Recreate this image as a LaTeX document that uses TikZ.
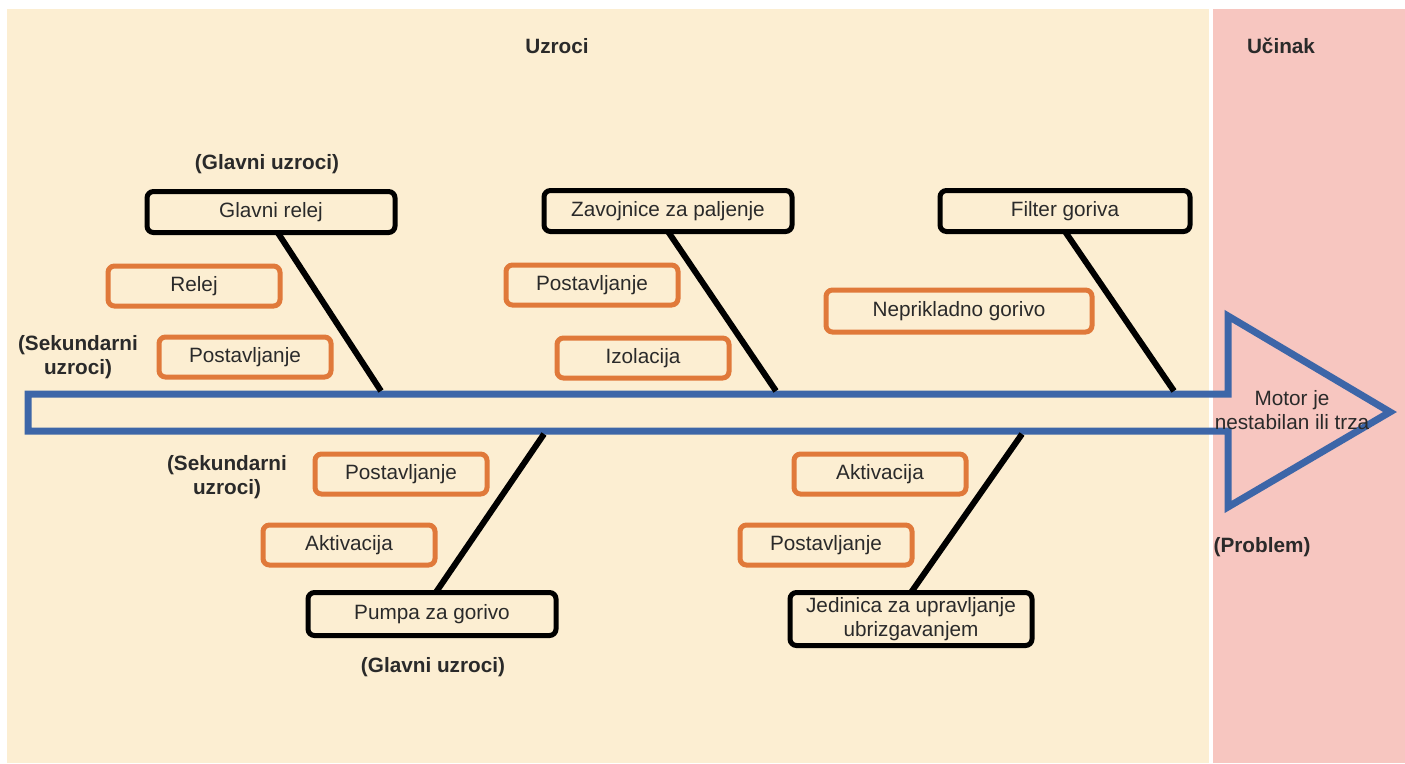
\documentclass[tikz,border=0pt]{standalone}
\usepackage{fontspec}
\setmainfont{Liberation Sans}
\usetikzlibrary{positioning}
\definecolor{cream}{HTML}{FCEED2}
\definecolor{effect}{HTML}{F7C6C0}
\definecolor{spine}{HTML}{3D66A8}
\definecolor{fishorange}{HTML}{E0793A}
\definecolor{ink}{HTML}{2A2A2A}

\begin{document}
\begin{tikzpicture}[
    x=0.2mm, y=-0.2mm,
    every node/.style={color=ink, font=\fontsize{11.8pt}{14pt}\selectfont},
    heading/.style={font=\fontsize{11.8pt}{14pt}\selectfont\bfseries, align=center},
    main cause/.style={draw=black, line width=1mm, rounded corners=1.3mm,
        minimum width=49.6mm, minimum height=8.2mm, inner sep=0pt, outer sep=0pt},
    sub cause/.style={draw=fishorange, line width=1mm, rounded corners=1.3mm,
        minimum width=34.4mm, minimum height=8mm, inner sep=0pt, outer sep=0pt},
    bone/.style={line width=1.2mm, black},
    spine line/.style={draw=spine, line width=1.4mm, line join=miter}
    ]
    \useasboundingbox (0,0) rectangle (1405,763);
    % background
    \fill[white] (0,0) rectangle (1405,763);
    \fill[cream] (7,9) rectangle (1209,763);
    \fill[effect] (1213,9) rectangle (1405,763);
    % titles
    \node[heading] (uzroci) at (557,46) {Uzroci};
    \node[heading] (ucinak) at (1281,46) {Učinak};
    % spine arrow
    \draw[spine line] (28,394) -- (1228,394) -- (1228,316) -- (1390,412)
        -- (1228,507) -- (1228,431) -- (28,431) -- cycle;
    \node[align=center] (problem) at (1292,410) {Motor je\\nestabilan ili trza};
    \node[heading] (problemlbl) at (1262,547) {(Problem)};
    \coordinate (bone1) at (381,391);
    \coordinate (bone2) at (776,391);
    \coordinate (bone3) at (1174,391);
    \coordinate (bone4) at (544,434);
    \coordinate (bone5) at (1022,434);
    % upper main causes
    \node[heading] (glavni1) at (267,164) {(Glavni uzroci)};
    \node[main cause] (glrelej) at (271,212) {Glavni relej};
    \node[main cause] (zavojnice) at (668,211) {Zavojnice za paljenje};
    \node[main cause, minimum width=50mm] (filter) at (1065,211) {Filter goriva};
    % upper secondary causes
    \node[sub cause] (relej) at (194,286) {Relej};
    \node[sub cause] (postav1) at (245,357) {Postavljanje};
    \node[heading] (sekundarni1) at (78,357) {(Sekundarni\\uzroci)};
    \node[sub cause] (postav2) at (592,285) {Postavljanje};
    \node[sub cause] (izolacija) at (643,358) {Izolacija};
    \node[sub cause, minimum width=53.2mm, minimum height=8.4mm] (nepr) at (959,311)
        {Neprikladno gorivo};
    % lower main causes
    \node[main cause, minimum height=8.6mm] (pumpa) at (432,614) {Pumpa za gorivo};
    \node[heading] (glavni2) at (433,667) {(Glavni uzroci)};
    \node[main cause, minimum width=48.4mm, minimum height=10.6mm, align=center]
        (jedinica) at (911,619) {Jedinica za upravljanje\\ubrizgavanjem};
    % lower secondary causes
    \node[heading] (sekundarni2) at (227,477) {(Sekundarni\\uzroci)};
    \node[sub cause] (postav3) at (401,474) {Postavljanje};
    \node[sub cause] (aktiv1) at (349,545) {Aktivacija};
    \node[sub cause] (aktiv2) at (880,474) {Aktivacija};
    \node[sub cause] (postav4) at (826,545) {Postavljanje};
    % bones
    \draw[bone] (glrelej.-72) -- (bone1);
    \draw[bone] (zavojnice.south) -- (bone2);
    \draw[bone] (filter.south) -- (bone3);
    \draw[bone] (pumpa.80) -- (bone4);
    \draw[bone] (jedinica.north) -- (bone5);
\end{tikzpicture}
\end{document}
